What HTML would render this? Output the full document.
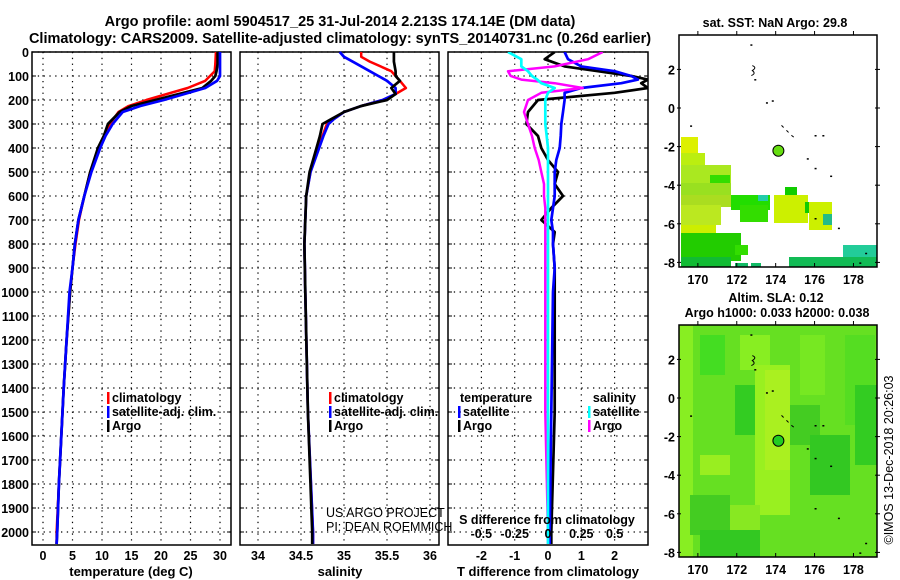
<!DOCTYPE html>
<html><head><meta charset="utf-8"><style>
body{margin:0;background:#fff;}
svg{display:block;font-family:"Liberation Sans",sans-serif;font-weight:bold;}
</style></head><body>
<svg id="chart" width="900" height="580" viewBox="0 0 900 580">
<text x="340" y="26" text-anchor="middle" font-size="14.5">Argo profile: aoml 5904517_25 31-Jul-2014 2.213S 174.14E (DM data)</text>
<text x="340" y="43" text-anchor="middle" font-size="14.5">Climatology: CARS2009. Satellite-adjusted climatology: synTS_20140731.nc (0.26d earlier)</text>
<g id="maps"></g>
<g id="plots"></g>
<text transform="translate(893,460) rotate(-90)" text-anchor="middle" font-size="12.5" font-weight="normal">©IMOS 13-Dec-2018 20:26:03</text>
</svg>
<script>
// ---- data ----
const depthsT = [0,50,80,100,120,150,175,200,225,250,300,350,400,500,600,700,800,900,1000,1200,1400,1600,1800,2000,2050];
const tempArgo = [29.6,29.6,29.4,29.2,28.5,27,23,19,15,13,11,10.3,9.3,8,7,6,5.4,5,4.6,4,3.5,3.1,2.7,2.4,2.3];
const tempClim = [29.3,29.2,29.1,28.3,27.5,24.5,21,17.5,14.5,12.8,11.3,10.3,9.4,8,7,6.1,5.5,5,4.6,4,3.5,3.1,2.7,2.3,2.3];
const tempSat  = [30,30,30,30,29.5,27.5,24,20.5,16.5,13.5,11.8,10.6,9.7,8.2,7,6,5.4,5,4.5,4,3.5,3.1,2.7,2.4,2.3];
const depthsS = [0,20,40,80,100,120,150,175,200,225,250,280,300,350,400,500,600,800,1000,1500,2000,2050];
const salArgo = [35.58,35.58,35.58,35.6,35.6,35.65,35.55,35.6,35.5,35.2,35.0,34.85,34.75,34.72,34.68,34.6,34.56,34.54,34.55,34.58,34.63,34.63];
const salClim = [35.2,35.2,35.3,35.55,35.6,35.65,35.72,35.6,35.45,35.2,35.0,34.88,34.8,34.75,34.7,34.61,34.56,34.54,34.55,34.58,34.64,34.64];
const salSat  = [34.95,35.0,35.1,35.3,35.4,35.5,35.6,35.6,35.45,35.2,35.0,34.88,34.82,34.76,34.71,34.61,34.56,34.54,34.55,34.58,34.64,34.64];
const depthsD = [0,30,60,80,100,115,130,150,170,200,250,300,350,400,450,500,550,600,650,700,750,800,900,1000,1500,2000,2050];
const dTArgo = [0.2,-0.1,0.5,1.5,2.5,3,2.8,3,2,-0.3,-0.6,-0.65,-0.3,-0.2,0,0.3,0.2,0.45,0.1,-0.2,0.2,0.15,0.2,0.2,0.2,0.1,0.1];
const dTSat  = [0.5,0.6,1.0,2.0,2.5,2.7,2.2,1.0,0.5,0.5,0.45,0.4,0.38,0.35,0.25,0.2,0.2,0.2,0.15,0.1,0.15,0.15,0.2,0.15,0.1,0.05,0.05];
const dSArgo = [0.41,0.3,0.05,-0.3,-0.28,-0.2,0.05,0.26,-0.05,-0.15,-0.18,-0.15,-0.12,-0.1,-0.07,-0.05,-0.03,-0.03,-0.02,-0.02,-0.02,-0.02,-0.02,-0.02,-0.02,0,0];
const dSCyan = [-0.3,-0.2,-0.2,-0.15,-0.12,-0.08,-0.05,0.05,0,-0.02,-0.02,-0.02,-0.01,0,0,0,0,0,0,0,0,0,0,0,0,0,0];
const depthTicks = [0,100,200,300,400,500,600,700,800,900,1000,1100,1200,1300,1400,1500,1600,1700,1800,1900,2000];
const tTicks = [0,5,10,15,20,25,30];
const sTicks = [34,34.5,35,35.5,36];
const dTTicks = [-2,-1,0,1,2];
const dSTicks = [-0.5,-0.25,0,0.25,0.5];
const lonTicks = [170,172,174,176,178];
const latTicks = [2,0,-2,-4,-6,-8];
const argoPos = [174.14,-2.213];

const NS='http://www.w3.org/2000/svg';
function mk(tag,attrs,parent){const e=document.createElementNS(NS,tag);for(const k in attrs)e.setAttribute(k,attrs[k]);parent.appendChild(e);return e;}
const plots=document.getElementById('plots'), maps=document.getElementById('maps');
const yD = d => 52 + d*0.24;
const Y0=52, Y1=545;

function panel(x0,x1,xs,ticks,tickFmt,name){
  const g=mk('g',{},plots);
  
  
  ticks.forEach(t=>{const l=mk('line',{x1:xs(t),x2:xs(t),y1:Y0,y2:Y1,stroke:'#000','stroke-width':1.2,'stroke-dasharray':'1.3,4.5'},g);
    });
  depthTicks.forEach(d=>{const l=mk('line',{x1:x0,x2:x1,y1:yD(d),y2:yD(d),stroke:'#000','stroke-width':1.2,'stroke-dasharray':'1.3,4.5'},g);
    
    mk('line',{x1:x0,x2:x0+4,y1:yD(d),y2:yD(d),stroke:'#000'},g);mk('line',{x1:x1-4,x2:x1,y1:yD(d),y2:yD(d),stroke:'#000'},g);});
  const r=mk('rect',{x:x0,y:Y0,width:x1-x0,height:Y1-Y0,fill:'none',stroke:'#000','stroke-width':1.5},g);
  
  if(tickFmt) ticks.forEach(t=>{const tx=mk('text',{x:xs(t),y:560,'text-anchor':'middle','font-size':12.5},g);tx.textContent=tickFmt(t);
    });
  return g;
}
function line(g,xs,ds,vals,color,w,name){
  const pts=ds.map((d,i)=>xs(vals[i]).toFixed(1)+','+yD(d).toFixed(1)).join(' ');
  const p=mk('polyline',{points:pts,fill:'none',stroke:color,'stroke-width':w,'stroke-linejoin':'round'},g);
  
  return p;
}
function txt(g,x,y,s,size,anchor,name,weight){const t=mk('text',{x:x,y:y,'font-size':size,'text-anchor':anchor||'start'},g);if(weight)t.setAttribute('font-weight',weight);t.textContent=s;
  return t;}
function legend(g,x,y,items){items.forEach((it,i)=>{mk('rect',{x:x,y:y+i*14-10,width:2.5,height:12,fill:it[1]},g);
  txt(g,x+5,y+i*14,it[0],12.5,'start','legend-entry');});}

depthTicks.forEach(d=>txt(plots,29,yD(d)+5,String(d),12.5,'end','y-tick-label'));

const defs=mk('defs',{},plots);
[[448,648,'clipD']].forEach(c=>{const cp=mk('clipPath',{id:c[2]},defs);mk('rect',{x:c[0],y:Y0,width:c[1]-c[0],height:Y1-Y0},cp);});

// Panel 1 temperature
const xT=t=>43+5.9*t;
const g1=panel(32,231,xT,tTicks,t=>String(t),'temperature-panel');
line(g1,xT,depthsT,tempClim,'#f00',2.5,'temperature-climatology-line');
line(g1,xT,depthsT,tempArgo,'#000',2.7,'temperature-argo-line');
line(g1,xT,depthsT,tempSat,'#00f',2.7,'temperature-satellite-line');
legend(g1,107,402,[['climatology','#f00'],['satellite-adj. clim.','#00f'],['Argo','#000']]);
txt(g1,131,576,'temperature (deg C)',13,'middle','x-axis-title');

// Panel 2 salinity
const xS=s=>258+86*(s-34);
const g2=panel(240,439,xS,sTicks,s=>String(s),'salinity-panel');
line(g2,xS,depthsS,salClim,'#f00',2.5,'salinity-climatology-line');
line(g2,xS,depthsS,salSat,'#00f',2.7,'salinity-satellite-line');
line(g2,xS,depthsS,salArgo,'#000',2.7,'salinity-argo-line');
legend(g2,329,402,[['climatology','#f00'],['satellite-adj. clim.','#00f'],['Argo','#000']]);
txt(g2,340,576,'salinity',13,'middle','x-axis-title');
txt(g2,326,517,'US ARGO PROJECT',12.5,'start','credit-text','normal');
txt(g2,326,531,'PI: DEAN ROEMMICH',12.5,'start','credit-text','normal');

// Panel 3 differences
const xDT=v=>548+33.3*v, xDS=v=>548+133.3*v;
const g3=panel(448,648,xDT,dTTicks,v=>String(v),'difference-panel');
const lg=mk('g',{'clip-path':'url(#clipD)'},g3);
line(lg,xDT,depthsD,dTArgo,'#000',2.7,'t-diff-argo-line');
line(lg,xDT,depthsD,dTSat,'#00f',2.7,'t-diff-satellite-line');
line(lg,xDS,depthsD,dSArgo,'#f0f',2.5,'s-diff-argo-line');
line(lg,xDS,depthsD,dSCyan,'#0ff',2.7,'s-diff-satellite-line');
dSTicks.forEach(v=>txt(g3,xDS(v),538,String(v),12.5,'middle','s-tick-label'));
txt(g3,547,524,'S difference from climatology',12.5,'middle','s-axis-title');
txt(g3,548,576,'T difference from climatology',13,'middle','x-axis-title');
txt(g3,460,402,'temperature',12.5,'start','legend-title');
legend(g3,458,416,[['satellite','#00f'],['Argo','#000']]);
txt(g3,636,402,'salinity',12.5,'end','legend-title');
legend(g3,588,416,[['satellite','#0ff'],['Argo','#f0f']]);

// ---- maps ----
const lonX=l=>679+19.45*(l-169.03);
function mapFrame(top,name,blocks,bg){
  const latY=l=>top+73+(0-l)*19.3;
  const g=mk('g',{},maps);
  
  mk('rect',{x:679,y:top,width:198,height:232,fill:bg},g);
  blocks.forEach(b=>mk('rect',{x:b[0],y:b[1]+top,width:b[2],height:b[3],fill:b[4]},g));
  [[172.7,3.3],[172.9,1.5],[173.5,0.3],[173.8,0.4],[175.6,-2.6],[176,-1.4],[176.4,-1.4],[176,-3.1],[176.8,-3.5],[176,-5.7],[177.2,-6.2],[178.6,-7.5],[178.3,-8],[169.6,-0.9]].forEach(p=>
    mk('rect',{x:lonX(p[0]),y:latY(p[1]),width:2,height:1.5,fill:'#000'},g));
  mk('path',{d:`M${lonX(172.8)} ${latY(2.2)} q5 2 0 5 q4 3 -1 5`,stroke:'#000',fill:'none','stroke-width':1},g);
  mk('path',{d:`M${lonX(174.3)} ${latY(-0.9)} l5 5 l5 5 l5 4`,stroke:'#000',fill:'none','stroke-width':1,'stroke-dasharray':'3,4'},g);
  const c=mk('circle',{cx:lonX(argoPos[0]),cy:latY(argoPos[1]),r:5.5,fill:top<100?'#66dd11':'#22cc22',stroke:'#000','stroke-width':1},g);
  
  mk('rect',{x:679,y:top,width:198,height:232,fill:'none',stroke:'#000','stroke-width':1.5},g);
  lonTicks.forEach(l=>{mk('line',{x1:lonX(l),x2:lonX(l),y1:top+232,y2:top+228,stroke:'#000'},g);mk('line',{x1:lonX(l),x2:lonX(l),y1:top,y2:top-4,stroke:'#000'},g);
    txt(g,lonX(l),top+249,String(l),12.5,'middle','lon-tick-label');});
  latTicks.forEach(l=>{mk('line',{x1:677,x2:681,y1:latY(l),y2:latY(l),stroke:'#000'},g);mk('line',{x1:875,x2:880,y1:latY(l),y2:latY(l),stroke:'#000'},g);
    txt(g,675,latY(l)+5,String(l),12.5,'end','lat-tick-label');});
}
const b1=[[681,102,17,16,'#ddf000'],[681,118,24,22,'#bbee10'],[681,130,50,18,'#aae820'],[710,140,20,10,'#33dd00'],[681,148,50,14,'#99e020'],
[681,160,60,12,'#aadd20'],[731,160,39,15,'#22dd00'],[758,160,10,6,'#22ccaa'],[740,170,28,17,'#33dd00'],[681,170,40,20,'#bbe820'],[681,190,35,8,'#ccee00'],
[681,198,60,28,'#22cc00'],[735,210,13,10,'#33dd00'],[681,222,50,10,'#11bb33'],[735,228,13,4,'#11bb66'],[751,228,10,4,'#11bb66'],
[785,152,12,11,'#11cc00'],[774,160,34,28,'#ccf000'],[805,167,11,11,'#11cc00'],[809,167,23,28,'#ccf000'],[823,179,9,11,'#22bb88'],
[789,222,88,10,'#11bb55'],[843,210,34,12,'#22cc99']];
mapFrame(35,'sst-map',b1,'#fff');
txt(maps,775,27,'sat. SST: NaN Argo: 29.8',12.5,'middle','sst-map-title');
const b2=[[679,0,14,232,'#88ee22'],[700,10,25,40,'#44dd22'],[740,10,30,35,'#88ee22'],[735,60,20,50,'#33cc22'],[755,40,35,150,'#99f020'],
[765,45,25,100,'#aaf020'],[800,10,25,60,'#77e822'],[790,80,30,40,'#44cc22'],[810,110,40,60,'#33c822'],[845,10,30,90,'#55dd22'],[855,60,22,80,'#33cc22'],
[700,130,30,20,'#99ee20'],[690,170,40,40,'#44cc22'],[730,180,30,30,'#88e822'],[700,205,60,27,'#33c822'],[780,205,40,27,'#66dd22']];
mapFrame(325,'sla-map',b2,'#66e022');
txt(maps,776,302,'Altim. SLA: 0.12',12.5,'middle','sla-map-title');
txt(maps,777,317,'Argo h1000: 0.033 h2000: 0.038',12.5,'middle','sla-map-subtitle');
</script>
</body></html>
